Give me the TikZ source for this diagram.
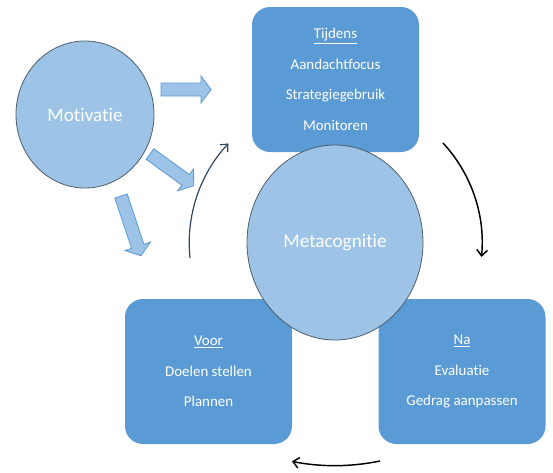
\documentclass[tikz,border=0pt]{standalone}
\usepackage{fontspec}
\setmainfont{Carlito}[Ligatures=NoCommon]
\usetikzlibrary{shapes.geometric,arrows.meta}
\definecolor{boxblue}{HTML}{5B9BD5}
\definecolor{lightblue}{HTML}{9DC3E6}
\definecolor{circedge}{HTML}{4E5D6C}
\definecolor{arcgray}{HTML}{34465C}
\tikzset{
  phase/.style={rectangle, rounded corners=13.5pt, fill=boxblue, draw=none,
    minimum width=125.25pt, minimum height=108.75pt, text=white, align=center,
    font=\fontsize{11.2}{23}\selectfont, inner sep=0pt},
  bubble/.style={ellipse, fill=lightblue, draw=circedge, line width=0.6pt,
    text=white, font=\fontsize{14.4}{17}\selectfont, inner sep=0pt},
  blockarr/.style={fill=lightblue, draw=boxblue, line width=0.6pt, line join=miter},
  cyc/.style={line width=1.1pt, -{Straight Barb[length=4.5pt,width=8pt]}}
}
\newcommand{\blockshape}[1]{%
  \draw[blockarr] (0,-6.5) -- ({#1-10},-6.5) -- ({#1-10},-13.5) -- (#1,0)
    -- ({#1-10},13.5) -- ({#1-10},6.5) -- (0,6.5) -- cycle;}
\begin{document}
\begin{tikzpicture}[x=0.75pt,y=-0.75pt]
\useasboundingbox (0,0) rectangle (553,472);
% Motivatie
\node[bubble, minimum width=103.5pt, minimum height=110.25pt] (mot) at (85,114.5) {Motivatie};
% block arrows
\begin{scope}[shift={(161,89.5)}]\blockshape{50}\end{scope}
\begin{scope}[shift={(150,154)}, rotate=-36]\blockshape{54}\end{scope}
\begin{scope}[shift={(121,196)}, rotate=-71.6]\blockshape{63}\end{scope}
% phase boxes
\node[phase] (tij) at (335.5,79.5) {\underline{Tijdens}\\Aandachtfocus\\Strategiegebruik\\Monitoren};
\node[phase] (voor) at (208.5,371.5) {\underline{Voor}\\Doelen stellen\\Plannen};
\node[phase] (na) at (462,371.5) {\underline{Na}\\Evaluatie\\Gedrag aanpassen};
% Metacognitie
\node[bubble, minimum width=132pt, minimum height=146.25pt] (meta) at (335,242.5) {Metacognitie};
% cycle arcs
\coordinate (a1) at (190,258);
\coordinate (b1) at (443,143);
\coordinate (c1) at (380,461);
\draw[cyc, arcgray, line width=0.9pt] (a1) arc[start angle=185.9, end angle=137, radius=109.5pt];
\draw[cyc, black] (b1) arc[start angle=42.8, end angle=-5.5, radius=110.25pt];
\draw[cyc, black] (c1) arc[start angle=-78.3, end angle=-101.2, radius=166.5pt];
\end{tikzpicture}
\end{document}
